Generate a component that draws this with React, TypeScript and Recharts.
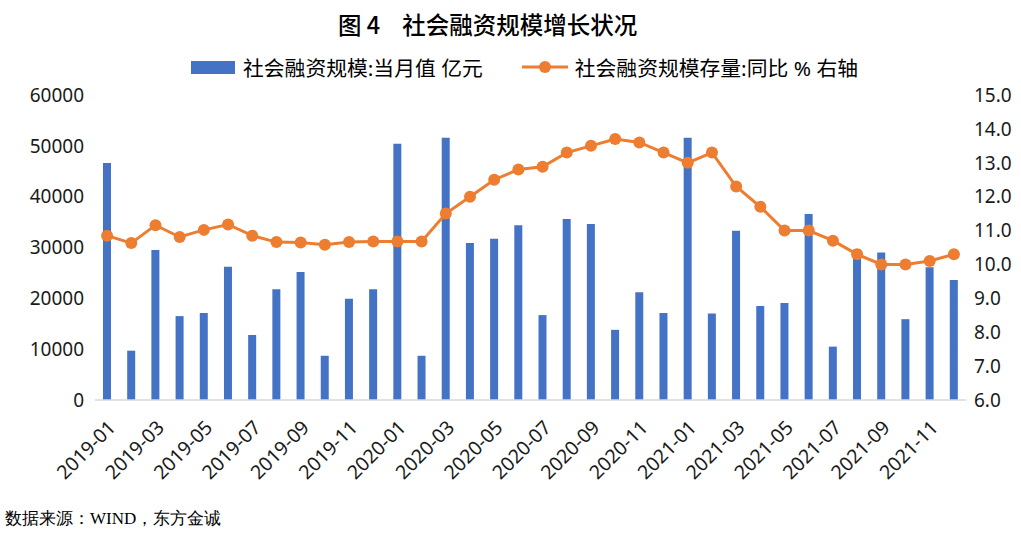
import { ComposedChart, Bar, Line, XAxis, YAxis } from 'recharts'

// 月份
const MONTHS = [
  '2019-01', '2019-02', '2019-03', '2019-04', '2019-05', '2019-06',
  '2019-07', '2019-08', '2019-09', '2019-10', '2019-11', '2019-12',
  '2020-01', '2020-02', '2020-03', '2020-04', '2020-05', '2020-06',
  '2020-07', '2020-08', '2020-09', '2020-10', '2020-11', '2020-12',
  '2021-01', '2021-02', '2021-03', '2021-04', '2021-05', '2021-06',
  '2021-07', '2021-08', '2021-09', '2021-10', '2021-11', '2021-12',
]

// 社会融资规模:当月值 亿元
const MONTHLY = [
  46600, 9700, 29500, 16500, 17100, 26200,
  12800, 21800, 25200, 8700, 19900, 21800,
  50400, 8700, 51600, 30900, 31700, 34400,
  16700, 35600, 34600, 13800, 21200, 17100,
  51600, 17000, 33300, 18500, 19100, 36600,
  10500, 29600, 29000, 15900, 26100, 23600,
]

// 社会融资规模存量:同比 %
const YOY = [
  10.85, 10.63, 11.16, 10.81, 11.02, 11.18,
  10.85, 10.66, 10.65, 10.58, 10.66, 10.68,
  10.68, 10.68, 11.5, 12.0, 12.5, 12.8,
  12.88, 13.3, 13.5, 13.7, 13.6, 13.3,
  13.0, 13.3, 12.3, 11.7, 11.0, 11.0,
  10.7, 10.3, 10.0, 10.0, 10.1, 10.3,
]

const LEFT_TICKS = [0, 10000, 20000, 30000, 40000, 50000, 60000]
const RIGHT_TICKS = [6, 7, 8, 9, 10, 11, 12, 13, 14, 15]

const BAR_NAME = '社会融资规模:当月值 亿元'
const LINE_NAME = '社会融资规模存量:同比 % 右轴'

const data = MONTHS.map((m, i) => ({ month: m, monthly: MONTHLY[i], yoy: YOY[i] }))

const FONT = '"Noto Sans", "Noto Sans CJK SC", sans-serif'
const TICK = { fontSize: 19, fill: '#1a1a1a' }

function LegendBox() {
  return (
    <div style={{ position: 'absolute', top: 52, left: 191, display: 'flex', alignItems: 'center', fontSize: 20.8, color: '#000', fontFamily: FONT, whiteSpace: 'nowrap' }}>
      <span style={{ display: 'inline-block', width: 44, height: 13, background: '#4472C4', marginRight: 8 }} />
      <span>{BAR_NAME}</span>
      <svg width={46} height={14} style={{ marginLeft: 39, marginRight: 7 }}>
        <line x1={0} y1={7} x2={46} y2={7} stroke="#ED7D31" strokeWidth={3} />
        <circle cx={23} cy={7} r={6} fill="#ED7D31" />
      </svg>
      <span>{LINE_NAME}</span>
    </div>
  )
}

export default function App() {
  return (
    <div style={{ position: 'absolute', left: 0, top: 0, width: 1021, height: 542, background: '#fff', fontFamily: FONT }}>
      <div style={{ position: 'absolute', top: 7, left: 338, fontSize: 23.5, fontWeight: 500, fontFamily: '"Noto Sans CJK SC", sans-serif', color: '#000', whiteSpace: 'nowrap' }}>
        图 4<span style={{ display: 'inline-block', width: 22 }} />社会融资规模增长状况
      </div>
      <LegendBox />
      <ComposedChart width={1021} height={542} data={data} margin={{ top: 95, right: 0, bottom: 42, left: 0 }}>
        <XAxis
          dataKey="month"
          interval={1}
          angle={-45}
          textAnchor="end"
          height={100}
          tickLine={false}
          axisLine={{ stroke: '#D9D9D9', strokeWidth: 1.5 }}
          tick={{ ...TICK, fontSize: 19.5 }}
          tickMargin={13}
        />
        <YAxis
          yAxisId="left"
          width={95}
          domain={[0, 60000]}
          ticks={LEFT_TICKS}
          axisLine={false}
          tickLine={false}
          tickMargin={5}
          tick={TICK}
        />
        <YAxis
          yAxisId="right"
          orientation="right"
          width={55}
          domain={[6, 15]}
          ticks={RIGHT_TICKS}
          tickFormatter={(v: number) => v.toFixed(1)}
          axisLine={false}
          tickLine={false}
          tick={{ ...TICK, textAnchor: 'start' }}
        />
        <Bar yAxisId="left" dataKey="monthly" name={BAR_NAME} fill="#4472C4" barSize={8} isAnimationActive={false} />
        <Line
          yAxisId="right"
          dataKey="yoy"
          name={LINE_NAME}
          stroke="#ED7D31"
          strokeWidth={3}
          dot={{ r: 6, fill: '#ED7D31', stroke: 'none' }}
          activeDot={false}
          isAnimationActive={false}
        />
      </ComposedChart>
      <div style={{ position: 'absolute', left: 5, top: 507, fontSize: 17, fontFamily: 'serif', color: '#000' }}>
        数据来源：WIND，东方金诚
      </div>
    </div>
  )
}
